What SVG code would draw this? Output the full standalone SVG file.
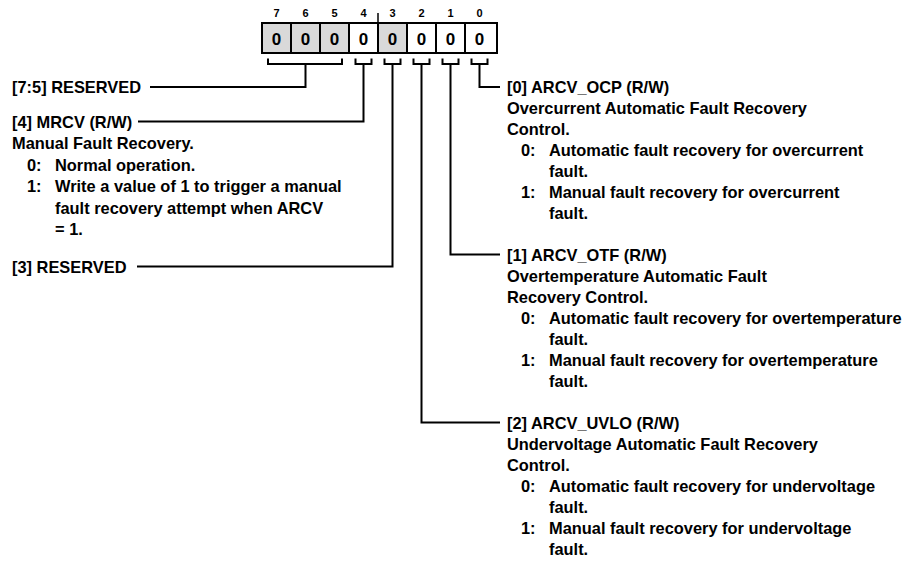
<svg xmlns="http://www.w3.org/2000/svg" width="904" height="570" viewBox="0 0 904 570">
<style>
  text { font-family: "Liberation Sans", Arial, sans-serif; font-weight: bold; fill: #000; }
  .t { font-size: 16.4px; }
  .bitn { font-size: 11px; text-anchor: middle; }
  .val { font-size: 17px; text-anchor: middle; }
  .cell { stroke: #000; stroke-width: 2; }
  .res { fill: #d9d9d9; }
  .rw { fill: #fff; }
  .conn { fill: none; stroke: #000; stroke-width: 2; }
</style>
<rect width="904" height="570" fill="#fff"/>

<g id="register">
  <g id="bit-numbers">
    <text class="bitn" x="276.5" y="17">7</text>
    <text class="bitn" x="305.5" y="17">6</text>
    <text class="bitn" x="334.5" y="17">5</text>
    <text class="bitn" x="363.5" y="17">4</text>
    <text class="bitn" x="392.5" y="17">3</text>
    <text class="bitn" x="421.5" y="17">2</text>
    <text class="bitn" x="450.5" y="17">1</text>
    <text class="bitn" x="479.5" y="17">0</text>
  </g>
  <line x1="378" y1="13" x2="378" y2="23" stroke="#000" stroke-width="1.5"/>
  <rect class="cell res" x="262" y="23" width="29" height="30"/>
  <rect class="cell res" x="291" y="23" width="29" height="30"/>
  <rect class="cell res" x="320" y="23" width="29" height="30"/>
  <rect class="cell rw" x="349" y="23" width="29" height="30"/>
  <rect class="cell res" x="378" y="23" width="29" height="30"/>
  <rect class="cell rw" x="407" y="23" width="29" height="30"/>
  <rect class="cell rw" x="436" y="23" width="29" height="30"/>
  <rect class="cell rw" x="465" y="23" width="32" height="30"/>
  <text class="val" x="276.5" y="45">0</text>
  <text class="val" x="305.5" y="45">0</text>
  <text class="val" x="334.5" y="45">0</text>
  <text class="val" x="363.5" y="45">0</text>
  <text class="val" x="392.5" y="45">0</text>
  <text class="val" x="421.5" y="45">0</text>
  <text class="val" x="450.5" y="45">0</text>
  <text class="val" x="479.5" y="45">0</text>
</g>

<g id="connectors">
  <path class="conn" d="M268,58.5 V64 H342 V58.5"/>
  <path class="conn" d="M305.5,64 V87 H150"/>
  <path class="conn" d="M355.5,58.5 V64 H371.5 V58.5"/>
  <path class="conn" d="M363.5,64 V121.5 H138"/>
  <path class="conn" d="M384.5,58.5 V64 H400.5 V58.5"/>
  <path class="conn" d="M392.5,64 V266.5 H137"/>
  <path class="conn" d="M413.5,58.5 V64 H429.5 V58.5"/>
  <path class="conn" d="M421.5,64 V422.5 H500"/>
  <path class="conn" d="M442.5,58.5 V64 H458.5 V58.5"/>
  <path class="conn" d="M450.5,64 V254.5 H500"/>
  <path class="conn" d="M471.5,58.5 V64 H487.5 V58.5"/>
  <path class="conn" d="M479.5,64 V87 H500"/>
</g>

<g id="field-7-5">
  <text class="t" x="12" y="93">[7:5] RESERVED</text>
</g>

<g id="field-4">
  <text class="t" x="12" y="127.5">[4] MRCV (R/W)</text>
  <text class="t" x="12" y="149">Manual Fault Recovery.</text>
  <text class="t"><tspan x="27" y="170.5">0:</tspan><tspan x="55" y="170.5">Normal operation.</tspan></text>
  <text class="t"><tspan x="27" y="192">1:</tspan><tspan x="55" y="192">Write a value of 1 to trigger a manual</tspan></text>
  <text class="t" x="55" y="213.5">fault recovery attempt when ARCV</text>
  <text class="t" x="55" y="235">= 1.</text>
</g>

<g id="field-3">
  <text class="t" x="12" y="272.5">[3] RESERVED</text>
</g>

<g id="field-0">
  <text class="t" x="507" y="93">[0] ARCV_OCP (R/W)</text>
  <text class="t" x="507" y="113.5">Overcurrent Automatic Fault Recovery</text>
  <text class="t" x="507" y="134.5">Control.</text>
  <text class="t"><tspan x="521" y="155.5">0:</tspan><tspan x="549" y="155.5">Automatic fault recovery for overcurrent</tspan></text>
  <text class="t" x="549" y="176.5">fault.</text>
  <text class="t"><tspan x="521" y="197.5">1:</tspan><tspan x="549" y="197.5">Manual fault recovery for overcurrent</tspan></text>
  <text class="t" x="549" y="218.5">fault.</text>
</g>

<g id="field-1">
  <text class="t" x="507" y="260.5">[1] ARCV_OTF (R/W)</text>
  <text class="t" x="507" y="281.5">Overtemperature Automatic Fault</text>
  <text class="t" x="507" y="302.5">Recovery Control.</text>
  <text class="t"><tspan x="521" y="323.5">0:</tspan><tspan x="549" y="323.5">Automatic fault recovery for overtemperature</tspan></text>
  <text class="t" x="549" y="344.5">fault.</text>
  <text class="t"><tspan x="521" y="365.5">1:</tspan><tspan x="549" y="365.5">Manual fault recovery for overtemperature</tspan></text>
  <text class="t" x="549" y="386.5">fault.</text>
</g>

<g id="field-2">
  <text class="t" x="507" y="428.5">[2] ARCV_UVLO (R/W)</text>
  <text class="t" x="507" y="449.5">Undervoltage Automatic Fault Recovery</text>
  <text class="t" x="507" y="470.5">Control.</text>
  <text class="t"><tspan x="521" y="491.5">0:</tspan><tspan x="549" y="491.5">Automatic fault recovery for undervoltage</tspan></text>
  <text class="t" x="549" y="512.5">fault.</text>
  <text class="t"><tspan x="521" y="533.5">1:</tspan><tspan x="549" y="533.5">Manual fault recovery for undervoltage</tspan></text>
  <text class="t" x="549" y="554.5">fault.</text>
</g>
</svg>
